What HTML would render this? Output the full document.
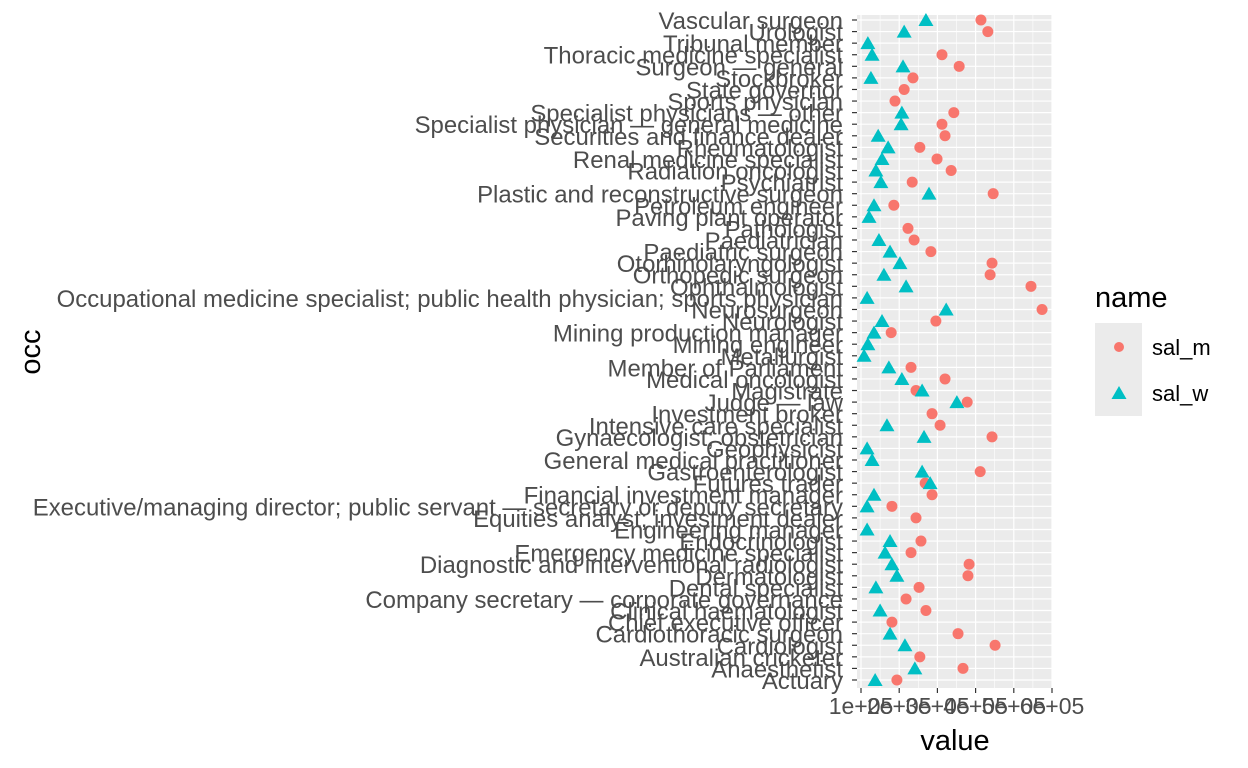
<!DOCTYPE html>
<html><head><meta charset="utf-8"><style>
body{margin:0;background:#fff;}
svg{display:block;font-family:"Liberation Sans",Arial,sans-serif;}
</style></head><body>
<svg id="chart" width="1248" height="768" viewBox="0 0 1248 768" xmlns="http://www.w3.org/2000/svg">
<rect x="0" y="0" width="1248" height="768" fill="#fff"/>
<g id="panel"></g>
<g id="yaxis"></g>
<g id="xaxis"></g>
<g id="points"></g>
<text x="40" y="352" font-size="29" fill="#000" text-anchor="middle" transform="rotate(-90 40 352)">occ</text>
<text x="955" y="750" font-size="29" fill="#000" text-anchor="middle">value</text>
<g>
<text x="1095" y="307" font-size="29" fill="#000">name</text>
<rect x="1095" y="323" width="47" height="93" fill="#ebebeb"/>
<circle cx="1119" cy="347" r="5" fill="#F8766D"/>
<polygon points="1119,386 1126.5,399 1111.5,399" fill="#00BFC4"/>
<text x="1152" y="355" font-size="22" fill="#000">sal_m</text>
<text x="1152" y="401" font-size="22" fill="#000">sal_w</text>
</g>
</svg>
<script>
const categories = ["Vascular surgeon","Urologist","Tribunal member","Thoracic medicine specialist","Surgeon — general","Stockbroker","State governor","Sports physician","Specialist physicians — other","Specialist physician — general medicine","Securities and finance dealer","Rheumatologist","Renal medicine specialist","Radiation oncologist","Psychiatrist","Plastic and reconstructive surgeon","Petroleum engineer","Paving plant operator","Pathologist","Paediatrician","Paediatric surgeon","Otorhinolaryngologist","Orthopedic surgeon","Ophthalmologist","Occupational medicine specialist; public health physician; sports physician","Neurosurgeon","Neurologist","Mining production manager","Mining engineer","Metallurgist","Member of Parliament","Medical oncologist","Magistrate","Judge — law","Investment broker","Intensive care specialist","Gynaecologist; obstetrician","Geophysicist","General medical practitioner","Gastroenterologist","Futures trader","Financial investment manager","Executive/managing director; public servant — secretary or deputy secretary","Equities analyst; investment dealer","Engineering manager","Endocrinologist","Emergency medicine specialist","Diagnostic and interventional radiologist","Dermatologist","Dental specialist","Company secretary — corporate governance","Clinical haematologist","Chief executive officer","Cardiothoracic surgeon","Cardiologist","Australian cricketer","Anaesthetist","Actuary"];
const salM = [414000,432000,null,312000,357000,236000,213000,189000,343000,312000,320000,254000,299000,336000,234000,446000,186000,null,223000,239000,283000,443000,438000,545000,null,574000,296000,179000,null,null,231000,320000,244000,378000,286000,307000,443000,null,null,412000,268000,286000,181000,244000,null,257000,231000,383000,380000,252000,218000,270000,181000,354000,451000,254000,367000,194000];
const salW = [270000,213000,118000,129000,210000,126000,null,null,207000,205000,145000,171000,155000,139000,152000,278000,134000,121000,null,147000,176000,202000,160000,218000,116000,323000,155000,134000,118000,108000,173000,207000,260000,351000,null,168000,265000,116000,129000,260000,281000,134000,116000,null,116000,176000,163000,181000,194000,139000,null,150000,null,176000,215000,null,241000,137000];
const xTicks = [100000,200000,300000,400000,500000,600000];
const xTickLabels = ["1e+05","2e+05","3e+05","4e+05","5e+05","6e+05"];

const NS="http://www.w3.org/2000/svg";
const PL=857, PR=1052, PT=15, PB=688;
const xScale = v => 861 + (v-100000)/100000*38.2;
const yScale = i => 20 + i*660/(categories.length-1);
function mk(tag, attrs, parent){const e=document.createElementNS(NS,tag);for(const k in attrs)e.setAttribute(k,attrs[k]);parent.appendChild(e);return e;}
const panel=document.getElementById('panel'), yax=document.getElementById('yaxis'), xax=document.getElementById('xaxis'), pts=document.getElementById('points');
let r=mk('rect',{x:PL,y:PT,width:PR-PL,height:PB-PT,fill:'#ebebeb'},panel);


for(let i=0;i<xTicks.length-1;i++){
  const xm=xScale((xTicks[i]+xTicks[i+1])/2);
  let g=mk('line',{x1:xm,x2:xm,y1:PT,y2:PB,stroke:'#fff','stroke-width':0.6},panel);
  
  
}
xTicks.forEach((t,i)=>{
  const x=xScale(t);
  let g=mk('line',{x1:x,x2:x,y1:PT,y2:PB,stroke:'#fff','stroke-width':1.2},panel);
  
  
  let tk=mk('line',{x1:x,x2:x,y1:PB,y2:PB+5,stroke:'#333','stroke-width':1.2},xax);
  
  
  let tl=mk('text',{x:x,y:714,'font-size':23,fill:'#4d4d4d','text-anchor':'middle'},xax);
  tl.textContent=xTickLabels[i];
  
  
});
categories.forEach((c,i)=>{
  const y=yScale(i);
  let g=mk('line',{x1:PL,x2:PR,y1:y,y2:y,stroke:'#fff','stroke-width':1.2},panel);
  
  
  let tk=mk('line',{x1:PL-5,x2:PL,y1:y,y2:y,stroke:'#333','stroke-width':1.2},yax);
  
  
  let tl=mk('text',{x:PL-14,y:y+9,'font-size':23.95,fill:'#4d4d4d','text-anchor':'end'},yax);
  tl.textContent=c;
  
  
});
categories.forEach((c,i)=>{
  const y=yScale(i);
  if(salM[i]!=null){
    let p=mk('circle',{cx:xScale(salM[i]),cy:y,r:5.5,fill:'#F8766D'},pts);
    
    
  }
  if(salW[i]!=null){
    const x=xScale(salW[i]);
    let p=mk('polygon',{points:`${x},${y-7} ${x+7.5},${y+6} ${x-7.5},${y+6}`,fill:'#00BFC4'},pts);
    
    
  }
});
</script>
</body></html>
